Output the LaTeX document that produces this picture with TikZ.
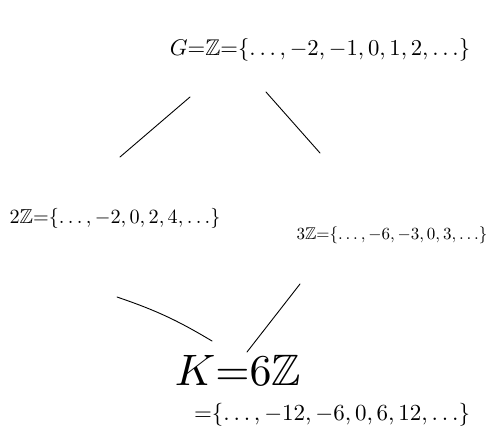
\documentclass[tikz,border=0pt]{standalone}
\usepackage{amssymb}
\begin{document}
\begin{tikzpicture}[x=1pt,y=-1pt,
  lbl/.style={inner sep=0pt,transform shape},
  edge/.style={line width=0.9pt,line cap=round}]
\useasboundingbox (0,0) rectangle (490,437);
\node[lbl,scale=2.27] (top) at (320,50) {$G{=}\mathbb{Z}{=}\{\ldots,-2,-1,0,1,2,\ldots\}$};
\node[lbl,scale=2.02] (left) at (115,218) {$2\mathbb{Z}{=}\{\ldots,-2,0,2,4,\ldots\}$};
\node[lbl,scale=1.7] (right) at (392,235) {$3\mathbb{Z}{=}\{\ldots,-6,-3,0,3,\ldots\}$};
\node[lbl,scale=4.4] (k) at (238,370) {$K{=}6\mathbb{Z}$};
\node[lbl,scale=2.3] (kset) at (332,415) {${=}\{\ldots,-12,-6,0,6,12,\ldots\}$};
\coordinate (tl1) at (190,97);
\coordinate (tl2) at (120,157);
\coordinate (tr1) at (266,92);
\coordinate (tr2) at (320,153);
\coordinate (bl1) at (117,297);
\coordinate (bl2) at (212,341);
\coordinate (br1) at (300,284);
\coordinate (br2) at (247,352);
\draw[edge] (tl1) -- (tl2);
\draw[edge] (tr1) -- (tr2);
\draw[edge] (bl1) to[bend left=6] (bl2);
\draw[edge] (br1) -- (br2);
\end{tikzpicture}
\end{document}
